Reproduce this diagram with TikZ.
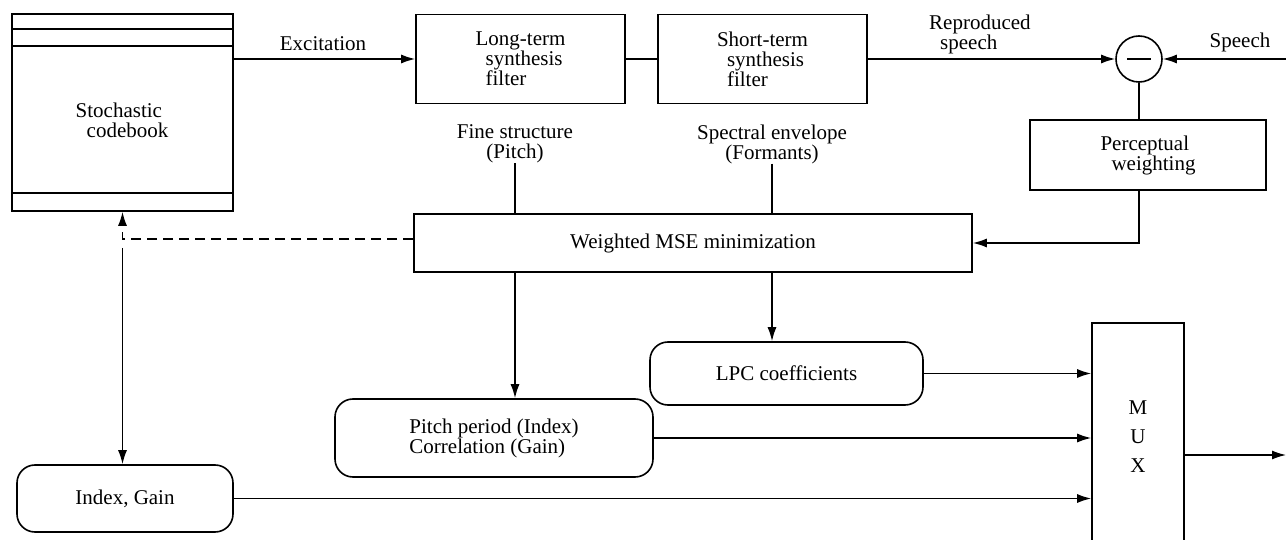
\documentclass[tikz,border=0pt]{standalone}
\usepackage{fontspec}
\setmainfont{Liberation Serif}
\usetikzlibrary{arrows.meta,calc}
\begin{document}
\begin{tikzpicture}[x=1pt,y=-1pt,
  font=\fontsize{21}{20}\selectfont,
  box/.style={draw,line width=1.6pt,inner sep=0pt},
  rbox/.style={box,rounded corners=18pt},
  wire/.style={line width=1.4pt},
  arr/.style={wire,-{Latex[length=14pt,width=9pt]}},
  lbl/.style={inner sep=0pt}]
\useasboundingbox (0,0) rectangle (1286,540);

% --- analysis-by-synthesis loop ---
\node[box,minimum width=221pt,minimum height=197pt] (cb) at (122.5,112.5) {};
\node[lbl,align=left] (cbtxt) at (122,120) {Stochastic\\\hspace{11pt}codebook};
\draw[line width=1.6pt] ($(cb.north west)+(0,16)$) -- ($(cb.north east)+(0,16)$);
\draw[line width=1.6pt] ($(cb.north west)+(0,33)$) -- ($(cb.north east)+(0,33)$);
\draw[line width=1.6pt] ($(cb.south west)+(0,-19)$) -- ($(cb.south east)+(0,-19)$);

\node[box,minimum width=209pt,minimum height=89pt,align=left] (lt) at (520.5,59)
  {Long-term\\\hspace{10pt}synthesis\\\hspace{10pt}filter};
\node[box,minimum width=209pt,minimum height=89pt,align=left] (st) at (762.5,59)
  {Short-term\\\hspace{10pt}synthesis\\\hspace{10pt}filter};
\node[draw,circle,line width=1.6pt,minimum size=46pt,inner sep=0pt] (sub) at (1139,59) {};
\draw[wire] ($(sub.center)+(-12,0)$) -- ($(sub.center)+(12,0)$);
\node[box,minimum width=236pt,minimum height=70pt,align=left] (pw) at (1148,155)
  {Perceptual\\\hspace{11pt}weighting};
\node[box,minimum width=558pt,minimum height=58pt] (mse) at (693,243)
  {Weighted MSE minimization};

% --- labels ---
\node[lbl] (exc) at (323,44) {Excitation};
\node[lbl,align=left,anchor=west] (rep) at (929,34) {Reproduced\\\hspace{11pt}speech};
\node[lbl,anchor=base] (spl) at (1240,48) {Speech};
\node[lbl,align=center] (fine) at (515,144) {Fine structure\\(Pitch)};
\node[lbl,align=center] (spec) at (772,144) {Spectral envelope\\(Formants)};

% --- transmitted parameters ---
\node[rbox,minimum width=273pt,minimum height=63pt] (lpc) at (786.5,373.5) {LPC coefficients};
\node[rbox,minimum width=318pt,minimum height=78pt,align=left] (pitch) at (494,438)
  {Pitch period (Index)\\Correlation (Gain)};
\node[rbox,minimum width=216pt,minimum height=67pt] (ig) at (125,498.5) {Index, Gain};
\node[box,minimum width=92pt,minimum height=227pt,align=center,
  font=\fontsize{21}{29}\selectfont] (mux) at (1138,436.5) {M\\U\\X};

% --- connectors ---
\coordinate (spin) at (1286,59);
\coordinate (out) at (1286,455);
\coordinate (vtop) at (122.5,248);

\draw[arr] (cb.east |- lt.west) -- (lt.west);
\draw[wire] (lt.east) -- (st.west);
\draw[arr] (st.east) -- (sub.west);
\draw[arr] (spin) -- (sub.east);
\draw[wire] (sub.south) -- (sub.south |- pw.north);
\draw[arr] (sub.south |- pw.south) |- (mse.east);
\draw[wire] (fine.south) -- (fine.south |- mse.north);
\draw[wire] (spec.south) -- (spec.south |- mse.north);
\draw[wire,dash pattern=on 10pt off 6pt,-{Latex[length=14pt,width=9pt]}]
  ([yshift=4pt]mse.west) -| (cb.south);
\draw[arr] (vtop) -- (vtop |- ig.north);
\draw[arr] (fine |- mse.south) -- (fine |- pitch.north);
\draw[arr] (spec |- mse.south) -- (spec |- lpc.north);
\draw[arr] (lpc.east) -- (lpc.east -| mux.west);
\draw[arr] (pitch.east) -- (pitch.east -| mux.west);
\draw[arr] (ig.east) -- (ig.east -| mux.west);
\draw[arr] (mux.east |- out) -- (out);
\end{tikzpicture}
\end{document}
